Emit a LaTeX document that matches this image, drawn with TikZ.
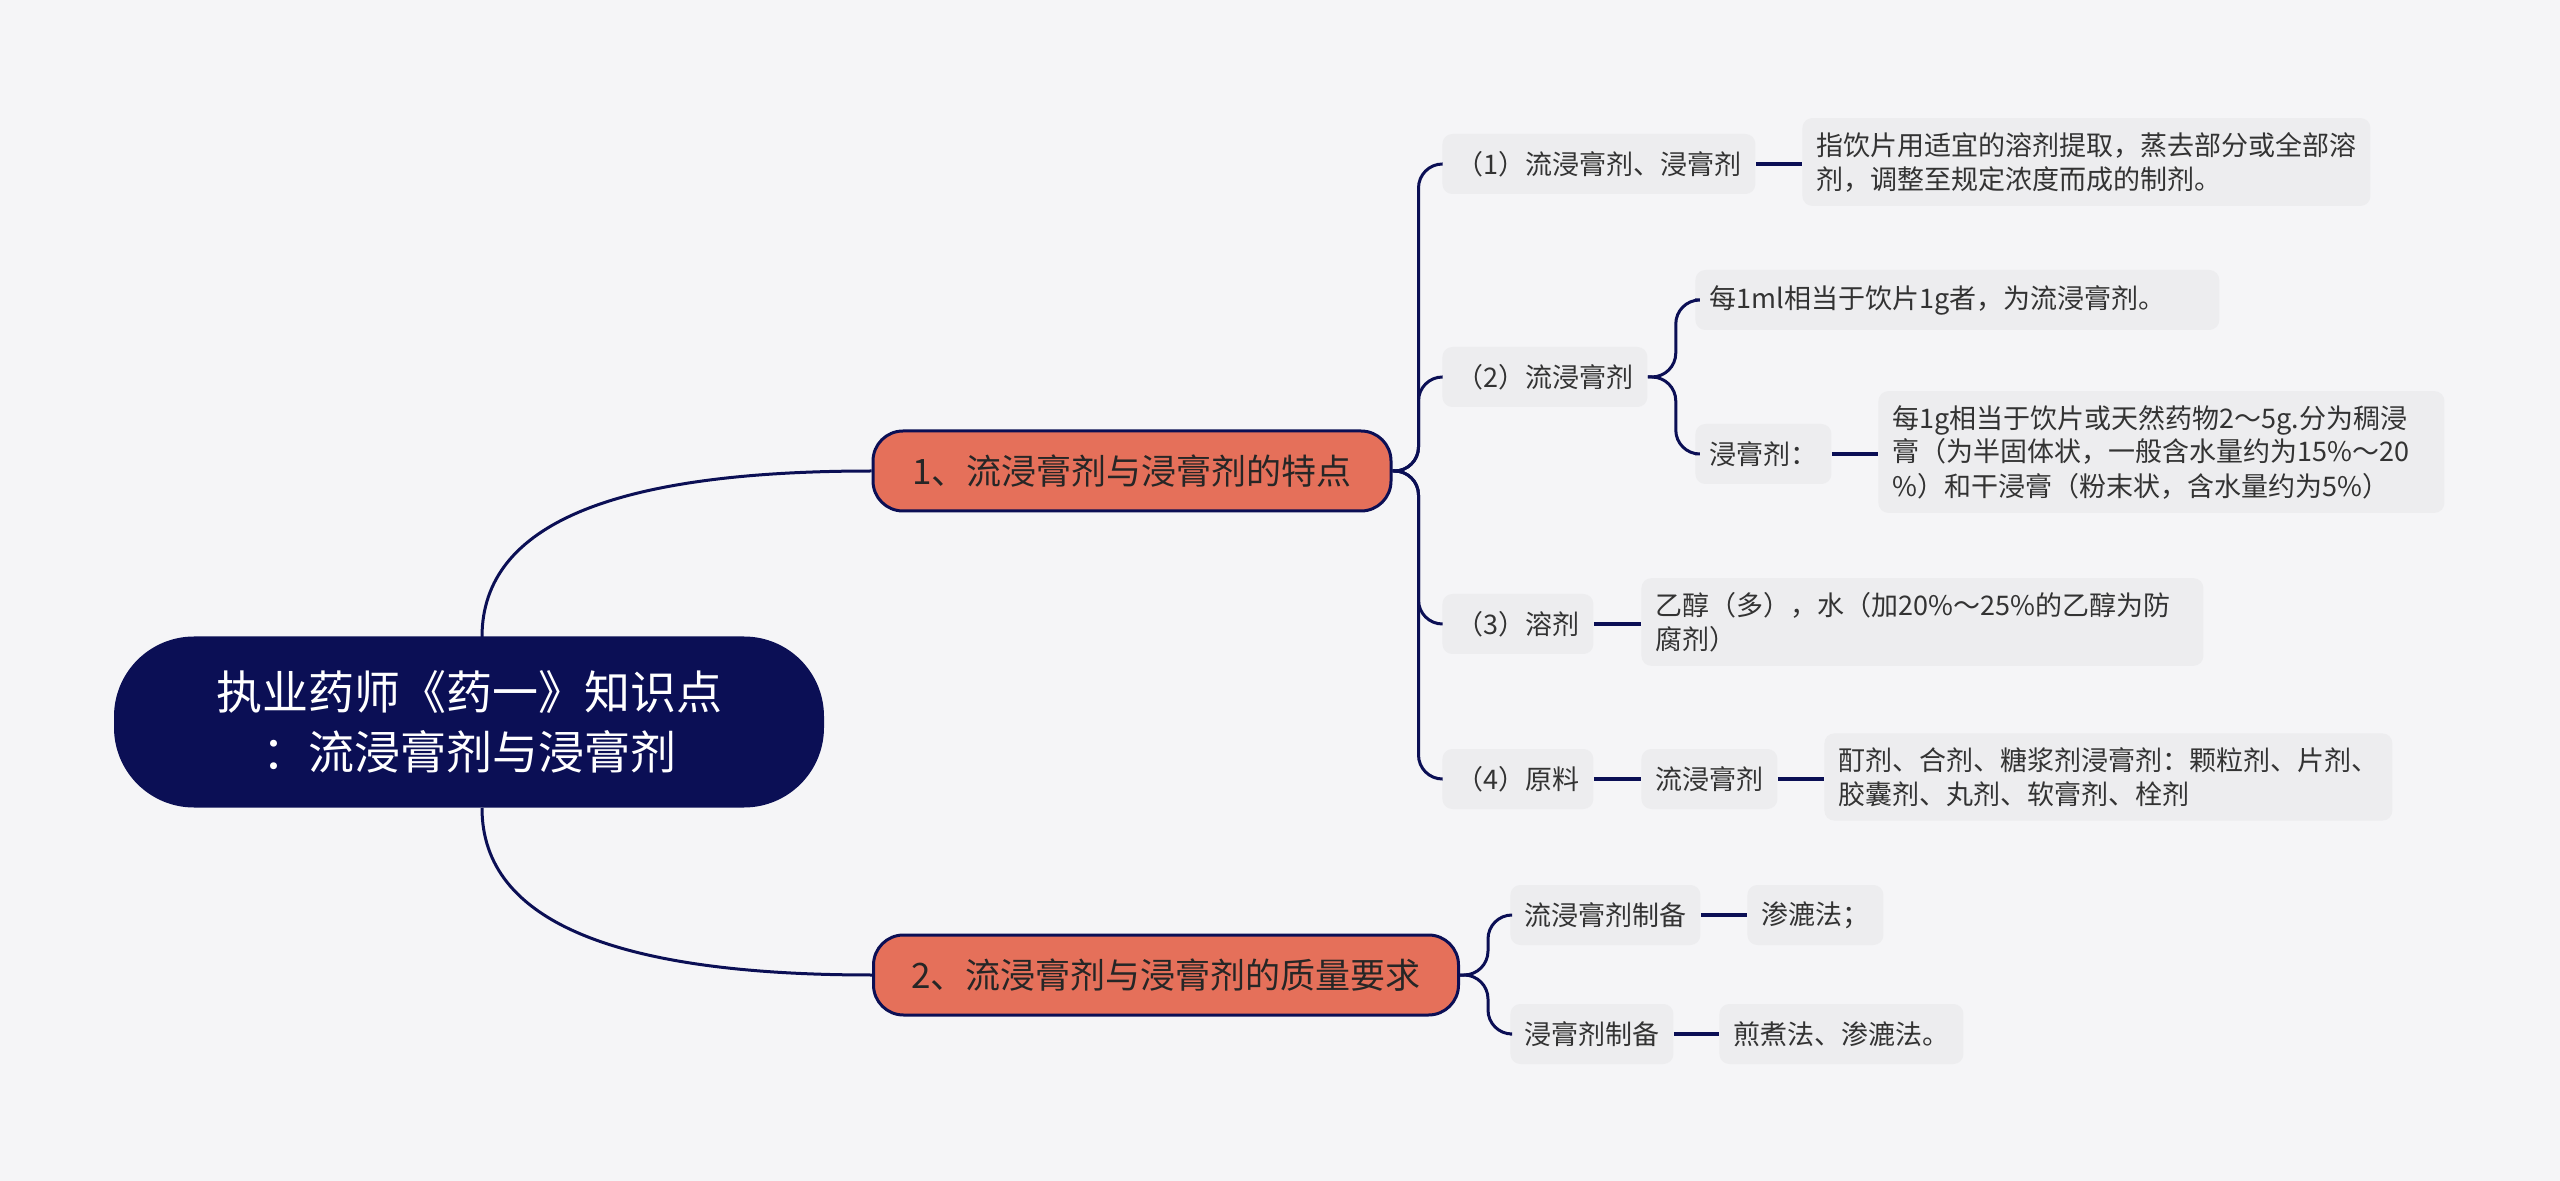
\documentclass[tikz,border=0pt]{standalone}
\usepackage{fontspec}
\setmainfont{Noto Sans CJK SC}
\definecolor{bgc}{HTML}{F5F5F7}
\definecolor{navy}{HTML}{0B0F55}
\definecolor{salmon}{HTML}{E5705A}
\definecolor{leafc}{HTML}{EDEDEF}
\definecolor{txt}{HTML}{333333}
\tikzset{
  rootbox/.style={rectangle, rounded corners=40pt, fill=navy, text=white,
    minimum width=355pt, minimum height=85.5pt, align=center,
    font=\fontsize{23pt}{30pt}\selectfont},
  topic/.style={rectangle, rounded corners=15pt, fill=salmon, draw=navy, line width=1.5pt,
    text=black!85, minimum height=40pt, inner xsep=12pt,
    font=\fontsize{17.5pt}{21pt}\selectfont},
  leaf/.style={rectangle, rounded corners=5pt, fill=leafc, text=txt, anchor=west,
    minimum height=30pt, inner xsep=7pt, inner ysep=7pt, align=left,
    font=\fontsize{13.5pt}{17pt}\selectfont},
  link/.style={draw=navy, line width=1.5pt},
  stub/.style={draw=navy, line width=2pt}
}
\begin{document}
\begin{tikzpicture}[x=0.5pt, y=-0.5pt]
\useasboundingbox (0,0) rectangle (2560,1181);
\fill[bgc] (0,0) rectangle (2560,1181);
\node[rootbox] (root) at (469,722) {执业药师《药一》知识点\\：流浸膏剂与浸膏剂};
\node[topic, minimum width=259pt] (b1) at (1132,471) {1、流浸膏剂与浸膏剂的特点};
\node[topic, minimum width=292.5pt] (b2) at (1166,975) {2、流浸膏剂与浸膏剂的质量要求};
% branch 1
\node[leaf] (c1) at (1442,164) {（1）流浸膏剂、浸膏剂};
\node[leaf] (d1) at (1802,162) {指饮片用适宜的溶剂提取，蒸去部分或全部溶\\剂，调整至规定浓度而成的制剂。};
\node[leaf] (c2) at (1442,377) {（2）流浸膏剂};
\node[leaf] (e1) at (1695,300) {每1ml相当于饮片1g者，为流浸膏剂。\hspace*{20pt}};
\node[leaf] (e2) at (1695,454) {浸膏剂：};
\node[leaf, text width=269pt] (f2) at (1878,452) {每1g相当于饮片或天然药物2～5g.分为稠浸\\膏（为半固体状，一般含水量约为15\%～20\\\%）和干浸膏（粉末状，含水量约为5\%）};
\node[leaf] (c3) at (1442,624) {（3）溶剂};
\node[leaf, text width=267pt] (d3) at (1641,622) {乙醇（多），水（加20\%～25\%的乙醇为防\\腐剂）};
\node[leaf] (c4) at (1442,779) {（4）原料};
\node[leaf] (e4) at (1641,779) {流浸膏剂};
\node[leaf] (f4) at (1824,777) {酊剂、合剂、糖浆剂浸膏剂：颗粒剂、片剂、\\胶囊剂、丸剂、软膏剂、栓剂};
% branch 2
\node[leaf] (g1) at (1510,915) {流浸膏剂制备};
\node[leaf] (h1) at (1747,915) {渗漉法；};
\node[leaf] (g2) at (1510,1034) {浸膏剂制备};
\node[leaf] (h2) at (1719,1034) {煎煮法、渗漉法。};

\coordinate (rt) at (482,637);
\coordinate (rb) at (482,808);
\draw[link] (rt) .. controls +(0,-115) and +(-253,0) .. (b1.west);
\draw[link] (rb) .. controls +(0,115) and +(-253,0) .. (b2.west);
\foreach \n in {c1,c2,c3,c4}
  \draw[link, rounded corners=12pt] (b1.east) -- ++(26,0) |- (\n.west);
\foreach \n in {e1,e2}
  \draw[link, rounded corners=12pt] (c2.east) -- ++(28,0) |- (\n.west);
\foreach \n in {g1,g2}
  \draw[link, rounded corners=12pt] (b2.east) -- ++(28,0) |- (\n.west);
\draw[stub] (c1.east) -- (d1.west |- c1.east);
\draw[stub] (e2.east) -- (f2.west |- e2.east);
\draw[stub] (c3.east) -- (d3.west |- c3.east);
\draw[stub] (c4.east) -- (e4.west);
\draw[stub] (e4.east) -- (f4.west |- e4.east);
\draw[stub] (g1.east) -- (h1.west);
\draw[stub] (g2.east) -- (h2.west);
\end{tikzpicture}
\end{document}
